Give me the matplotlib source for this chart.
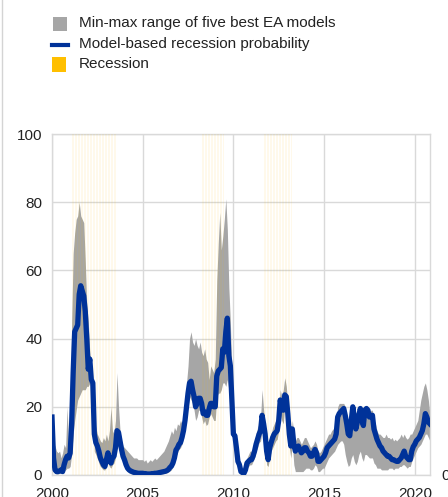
import matplotlib
matplotlib.use('Agg')
import matplotlib.pyplot as plt
import pandas as pd
import numpy as np
from matplotlib.patches import Rectangle
from matplotlib.lines import Line2D

plt.rcParams['font.family'] = ['Liberation Sans', 'DejaVu Sans']

# monthly data, Jan 2000 - Nov 2020
prob = [
    17, 5, 1.5, 1, 1, 1.2, 1.5, 1, 3, 4.5, 5.5, 5,                     # 2000
    6.4, 15, 30, 42, 43, 44, 53, 55.5, 54, 52.5, 48, 40,               # 2001
    31, 34, 28, 27, 12, 9.5, 8.5, 7, 5, 4, 3, 2.5,                     # 2002
    4.5, 6.5, 4.5, 3.5, 5, 5.5, 8, 13, 12.5, 10, 7.5, 5.5,             # 2003
    4.4, 3, 2, 1.5, 1.2, 1, 0.8, 0.7, 0.6, 0.5, 0.5, 0.5,              # 2004
    0.5, 0.4, 0.4, 0.3, 0.3, 0.3, 0.4, 0.4, 0.5, 0.5, 0.6, 0.7,        # 2005
    0.8, 0.9, 1, 1.1, 1.3, 1.6, 2.2, 2.6, 3.5, 5, 7.3, 8,              # 2006
    9, 9.5, 11, 13, 16, 20, 24, 27, 27.5, 25, 23, 20,                  # 2007
    21, 22.5, 22.5, 21, 18, 18.5, 17.5, 17.5, 19.5, 21, 21, 20,        # 2008
    20, 29, 30.5, 31, 31.5, 37, 36, 42, 46, 35, 32, 22,                # 2009
    12, 11.5, 8, 4, 3, 1, 0.7, 0.5, 1.5, 3.5, 4, 4.4,                  # 2010
    4.5, 5.5, 7, 9, 10.5, 12, 13, 17.5, 15, 12, 7, 4.5,                # 2011
    8, 9.5, 11, 12, 12.5, 13, 16, 22, 19.5, 19, 23.5, 23,              # 2012
    18, 12, 8.5, 13.5, 9, 7, 8, 8.5, 7.5, 6.5, 7, 8,                   # 2013
    8, 7, 6.5, 5.5, 5.5, 6.5, 7.5, 6.5, 4, 4, 4.5, 5,                  # 2014
    5.5, 6.5, 8, 8.5, 9, 9.5, 10, 10.5, 12, 17, 18, 18.5,              # 2015
    19, 19.5, 17.5, 15, 12, 11.5, 16, 20, 17, 13.5, 15.5, 17.5,        # 2016
    19.5, 16, 14.5, 19, 19.5, 19, 17, 17.5, 17.5, 13.5, 12, 10.5,      # 2017
    9.5, 8.5, 8, 7, 6.5, 6, 5.5, 5.5, 5, 4.5, 4.5, 4.2,                # 2018
    4, 4, 4.5, 5, 6, 7, 5.5, 5, 4.5, 4.5, 7, 8.3,                      # 2019
    9, 10, 10.5, 11, 12, 13, 15, 18, 17, 15.5, 15,                     # 2020
]

hi = [
    17, 9.5, 8.5, 7, 6.5, 7, 5, 6.5, 9, 8, 20, 9,
    12, 45, 65, 71, 75, 76, 80, 76, 75, 74, 63, 50,
    45, 36, 30, 26, 16, 14, 12, 11, 10, 9.5, 11, 10,
    12, 10, 13, 20, 13, 12, 16, 30, 20, 13, 10, 8.5,
    8, 7.5, 7, 6.5, 6, 5.5, 5, 5, 5, 4.5, 4.5, 4.5,
    4.5, 4, 4.5, 3.5, 4, 4.5, 4, 4.5, 5, 4.5, 5, 5.5,
    6, 6.5, 7, 8, 9, 10, 11.5, 13, 12, 14, 13, 15,
    14.5, 16, 15, 17, 20, 27, 32, 40, 42, 39, 38, 40,
    38, 37, 39, 36, 35, 37, 34, 33, 28, 32, 31, 30,
    34, 57, 68, 77, 66, 70, 75, 81, 72, 55, 45, 30,
    15, 13, 10, 6, 4, 2, 1.5, 1.5, 3, 5, 6, 7,
    7, 8, 10, 12, 14, 15, 17, 25, 19, 15, 10, 8,
    11, 12, 14, 15, 16, 17, 20, 25, 23, 25, 28.5, 26,
    21, 15, 12, 16, 12, 10, 11, 11, 10, 9, 10, 11,
    11, 10, 9, 8, 8.5, 9, 10, 9, 7, 6.5, 7, 8,
    9, 10, 11, 12, 12, 13, 13.5, 14, 16, 20, 21, 21,
    21, 21, 20, 17, 14, 14, 18, 21, 19, 16, 17, 19,
    20.5, 19, 17, 20, 20.5, 20, 18.5, 19, 19, 16, 15, 13,
    12, 12, 11.5, 11, 11, 12, 11, 11, 10.5, 11, 10, 10.5,
    10, 10.5, 11, 12, 11, 12, 11, 10.5, 11, 12, 12, 13,
    14, 15, 16, 19, 22, 24, 26, 27, 25, 22, 18,
]

lo = [
    17, 1, 0.5, 0.3, 0.3, 0.5, 0.5, 0.5, 1, 1.5, 2, 2,
    2.5, 6, 12, 16, 19, 22, 23, 24, 25, 25, 25, 26,
    26, 27, 25, 20, 7, 6, 5, 3.5, 2.5, 2, 1.5, 1.5,
    2.5, 4, 2.5, 2, 3, 3.5, 5, 10, 9, 7, 5, 3.5,
    2.5, 1.5, 1, 0.6, 0.4, 0.3, 0.2, 0.2, 0.1, 0.1, 0.1, 0.1,
    0.1, 0.1, 0.1, 0.1, 0.1, 0.1, 0.1, 0.1, 0.1, 0.1, 0.1, 0.1,
    0.2, 0.3, 0.4, 0.5, 0.6, 0.8, 1.2, 1.5, 2.5, 3.5, 5.5, 6.5,
    7.5, 8, 9, 11, 14, 17, 20, 23, 22, 21, 19, 16,
    17, 19, 19, 17, 15, 16, 14.5, 15, 17, 18, 17, 16,
    16, 23, 24, 24, 25, 27, 27, 26, 28, 25, 24, 16,
    10, 9, 5, 2.5, 1.5, 0.3, 0.2, 0.2, 0.5, 2, 2.5, 3,
    3, 4, 5, 7, 8, 9.5, 10, 13, 10, 8, 3, 2.5,
    5, 7, 8, 9, 10, 10.5, 13, 18, 16, 15, 20, 19,
    14, 8, 5, 9, 3, 1, 1, 1, 1, 1, 1, 1.5,
    2, 2, 2, 1.5, 1.5, 2, 3, 2.5, 1, 1, 1.5, 2,
    2, 3, 4, 5, 5.5, 6, 6.5, 7, 8, 9, 9.5, 10,
    10, 9, 6, 4, 2.5, 3, 5, 6, 4, 3, 4, 6,
    7, 5, 4, 6, 6, 5.5, 5, 5, 5, 3.5, 3, 2,
    2, 2, 1.5, 1.5, 1.5, 1.5, 1.5, 2, 2, 2, 1.5, 2,
    2, 2, 2.5, 2.5, 3, 3, 2.5, 2, 2.5, 2.5, 4, 5,
    6, 7, 8, 8.5, 9, 10, 11, 12, 12, 11, 10,
]

rec_start = ['2001-02', '2008-04', '2011-09']
rec_end = ['2003-07', '2009-06', '2013-03']

labels = ['Min-max range of five best EA models',
          'Model-based recession probability',
          'Recession']

grey = '#a6a6a6'
blue = '#003299'
amber = '#ffbf00'
gridc = '#d9d9d9'

months = pd.date_range('2000-01-01', periods=len(prob), freq='MS')
t = months.year + (months.month - 1) / 12.0

W, H = 448, 497
fig = plt.figure(figsize=(W / 100, H / 100), dpi=100)
ax = fig.add_axes([52 / W, 1 - 475 / H, (430 - 52) / W, (475 - 134) / H])

ax.fill_between(t, lo, hi, color=grey, lw=0, zorder=2)

for s, e in zip(rec_start, rec_end):
    for m in pd.date_range(s, e, freq='MS'):
        x0 = m.year + (m.month - 1) / 12.0
        ax.axvspan(x0, x0 + 0.6 / 12, color=amber, alpha=0.08, lw=0, zorder=3)

ax.plot(t, prob, color=blue, lw=3.8, solid_joinstyle='round', zorder=4)

ax.set_xlim(2000, 2020.84)
ax.set_ylim(0, 100)
ax.set_yticks(range(0, 101, 20))
ax.set_xticks(range(2000, 2021, 5))
ax.grid(True, color=gridc, lw=1, zorder=0)
ax.set_axisbelow(True)
for sp in ax.spines.values():
    sp.set_color(gridc)
    sp.set_linewidth(1)
ax.tick_params(length=0, labelsize=11, colors='#222222', pad=7)
ax.tick_params(axis='x', pad=9)

# legend drawn by hand
def fx(x):
    return x / W

def fy(y):
    return 1 - y / H

fig.add_artist(Rectangle((fx(53), fy(30.5)), 13.5 / W, 13.5 / H,
                         transform=fig.transFigure, color=grey, lw=0))
fig.add_artist(Line2D([fx(52), fx(68)], [fy(44.5), fy(44.5)],
                      transform=fig.transFigure, color=blue, lw=3))
fig.add_artist(Rectangle((fx(52), fy(71.5)), 14 / W, 14.5 / H,
                         transform=fig.transFigure, color=amber, lw=0))
for lab, yy in zip(labels, [23.5, 44, 64]):
    fig.text(fx(79), fy(yy), lab, fontsize=11, va='center', ha='left',
             color='#222222')

fig.text(fx(441), fy(476), '0', fontsize=11, va='center', ha='left',
         color='#222222')
fig.add_artist(Line2D([fx(2), fx(2)], [0, 1], transform=fig.transFigure,
                      color='#d4d4d4', lw=1))

fig.savefig('out.png', dpi=100)
